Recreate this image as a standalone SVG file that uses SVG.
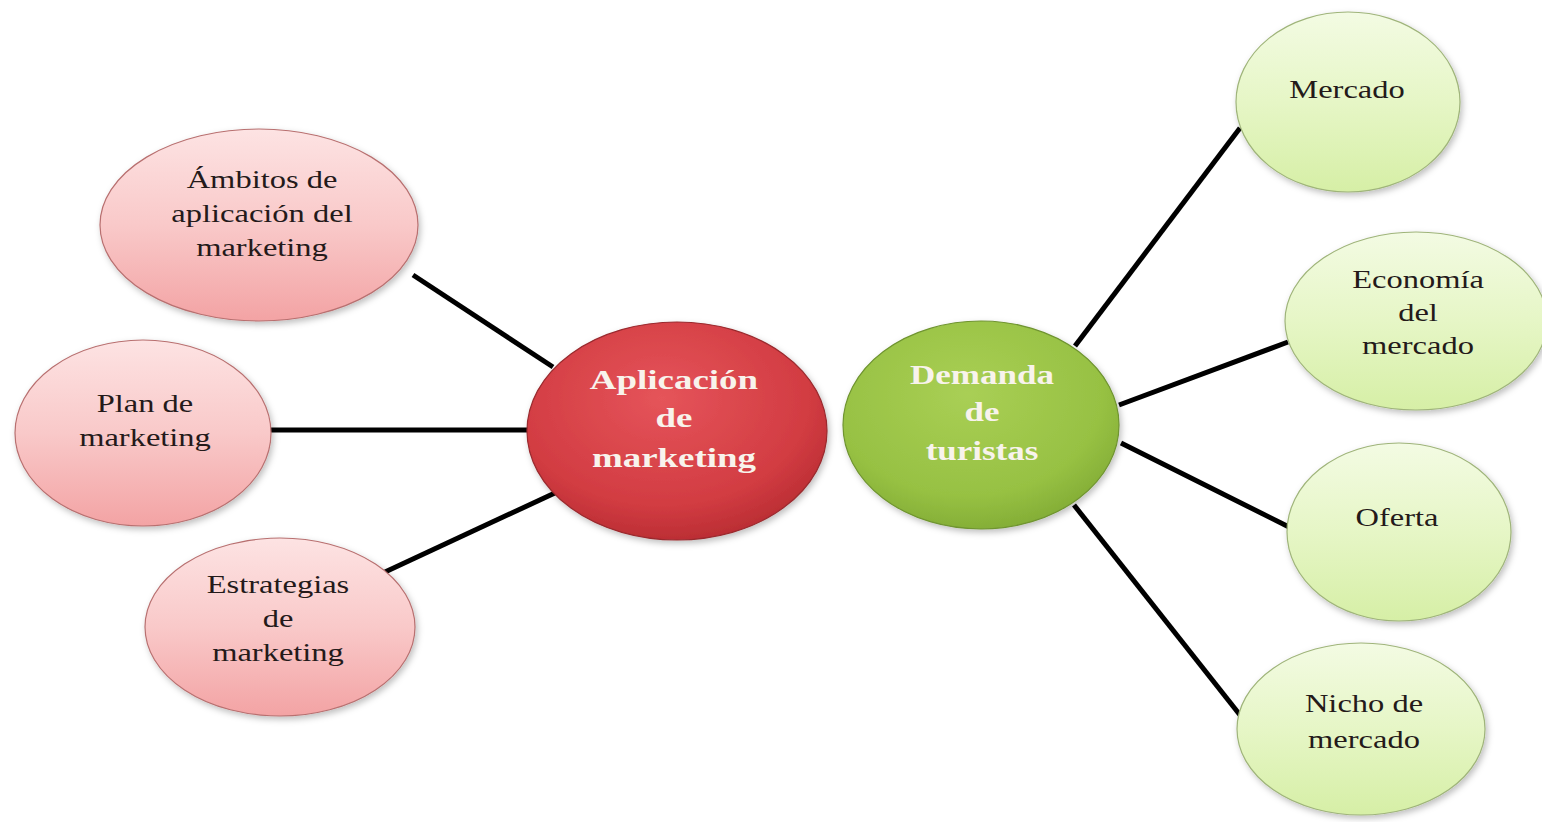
<svg xmlns="http://www.w3.org/2000/svg" width="1542" height="822" viewBox="0 0 1542 822">
  <defs>
    <linearGradient id="gPink" x1="0" y1="0" x2="0" y2="1">
      <stop offset="0" stop-color="#fde3e3"/>
      <stop offset="0.5" stop-color="#f9c9c9"/>
      <stop offset="1" stop-color="#f3a3a4"/>
    </linearGradient>
    <linearGradient id="gLight" x1="0" y1="0" x2="0" y2="1">
      <stop offset="0" stop-color="#f3fbe3"/>
      <stop offset="0.5" stop-color="#e6f6c6"/>
      <stop offset="1" stop-color="#d6efa6"/>
    </linearGradient>
    <radialGradient id="gRed" cx="0.45" cy="0.35" r="0.7">
      <stop offset="0" stop-color="#e5545a"/>
      <stop offset="0.7" stop-color="#d23c42"/>
      <stop offset="1" stop-color="#b52a30"/>
    </radialGradient>
    <radialGradient id="gGreen" cx="0.45" cy="0.35" r="0.7">
      <stop offset="0" stop-color="#a9cf55"/>
      <stop offset="0.7" stop-color="#97c143"/>
      <stop offset="1" stop-color="#7fa933"/>
    </radialGradient>
    <filter id="sh" x="-20%" y="-20%" width="140%" height="140%">
      <feDropShadow dx="2" dy="3" stdDeviation="3" flood-color="#000" flood-opacity="0.25"/>
    </filter>
  </defs>
  <style>
    .pink { fill: url(#gPink); stroke: #b87070; stroke-width: 1.2; filter: url(#sh); }
    .light { fill: url(#gLight); stroke: #9fb47a; stroke-width: 1.2; filter: url(#sh); }
    .red { fill: url(#gRed); stroke: #9a2a2e; stroke-width: 1.2; filter: url(#sh); }
    .green { fill: url(#gGreen); stroke: #6f9430; stroke-width: 1.2; filter: url(#sh); }
    .t { font-family: "Liberation Serif", "Times New Roman", serif; font-size: 26px; fill: #241a1a; text-anchor: middle; }
    .tb { font-family: "Liberation Serif", "Times New Roman", serif; font-size: 28px; font-weight: bold; fill: #f8f3ec; text-anchor: middle; }
    .conn line { stroke: #000; stroke-width: 5; stroke-linecap: butt; }
  </style>
  <rect width="1542" height="822" fill="#ffffff"/>

  <g id="connectors" class="conn">
    <line x1="413" y1="275" x2="553" y2="367"/>
    <line x1="270" y1="430" x2="529" y2="430"/>
    <line x1="385" y1="572" x2="557" y2="492"/>
    <line x1="1075" y1="346" x2="1240" y2="128"/>
    <line x1="1119" y1="405" x2="1288" y2="342"/>
    <line x1="1121" y1="443" x2="1289" y2="527"/>
    <line x1="1074" y1="505" x2="1240" y2="715"/>
  </g>

  <g id="n-ambitos">
    <ellipse class="pink" cx="259" cy="225" rx="159" ry="96"/>
    <g transform="translate(262,0) scale(1.25,1)">
      <text class="t" x="0" y="188">Ámbitos de</text>
      <text class="t" x="0" y="222">aplicación del</text>
      <text class="t" x="0" y="256">marketing</text>
    </g>
  </g>

  <g id="n-plan">
    <ellipse class="pink" cx="143" cy="433" rx="128" ry="93"/>
    <g transform="translate(145,0) scale(1.25,1)">
      <text class="t" x="0" y="412">Plan de</text>
      <text class="t" x="0" y="446">marketing</text>
    </g>
  </g>

  <g id="n-estrategias">
    <ellipse class="pink" cx="280" cy="627" rx="135" ry="89"/>
    <g transform="translate(278,0) scale(1.25,1)">
      <text class="t" x="0" y="593">Estrategias</text>
      <text class="t" x="0" y="627">de</text>
      <text class="t" x="0" y="661">marketing</text>
    </g>
  </g>

  <g id="n-aplicacion">
    <ellipse class="red" cx="677" cy="431" rx="150" ry="109"/>
    <g transform="translate(674,0) scale(1.32,1)">
      <text class="tb" x="0" y="389">Aplicación</text>
      <text class="tb" x="0" y="427">de</text>
      <text class="tb" x="0" y="467">marketing</text>
    </g>
  </g>

  <g id="n-demanda">
    <ellipse class="green" cx="981" cy="425" rx="138" ry="104"/>
    <g transform="translate(982,0) scale(1.25,1)">
      <text class="tb" x="0" y="384">Demanda</text>
      <text class="tb" x="0" y="421">de</text>
      <text class="tb" x="0" y="460">turistas</text>
    </g>
  </g>

  <g id="n-mercado">
    <ellipse class="light" cx="1348" cy="102" rx="112" ry="90"/>
    <g transform="translate(1347,0) scale(1.25,1)">
      <text class="t" x="0" y="98">Mercado</text>
    </g>
  </g>

  <g id="n-economia">
    <ellipse class="light" cx="1416" cy="321" rx="131" ry="89"/>
    <g transform="translate(1418,0) scale(1.25,1)">
      <text class="t" x="0" y="288">Economía</text>
      <text class="t" x="0" y="321">del</text>
      <text class="t" x="0" y="354">mercado</text>
    </g>
  </g>

  <g id="n-oferta">
    <ellipse class="light" cx="1399" cy="532" rx="112" ry="89"/>
    <g transform="translate(1397,0) scale(1.25,1)">
      <text class="t" x="0" y="526">Oferta</text>
    </g>
  </g>

  <g id="n-nicho">
    <ellipse class="light" cx="1361" cy="729" rx="124" ry="86"/>
    <g transform="translate(1364,0) scale(1.25,1)">
      <text class="t" x="0" y="712">Nicho de</text>
      <text class="t" x="0" y="748">mercado</text>
    </g>
  </g>
</svg>
